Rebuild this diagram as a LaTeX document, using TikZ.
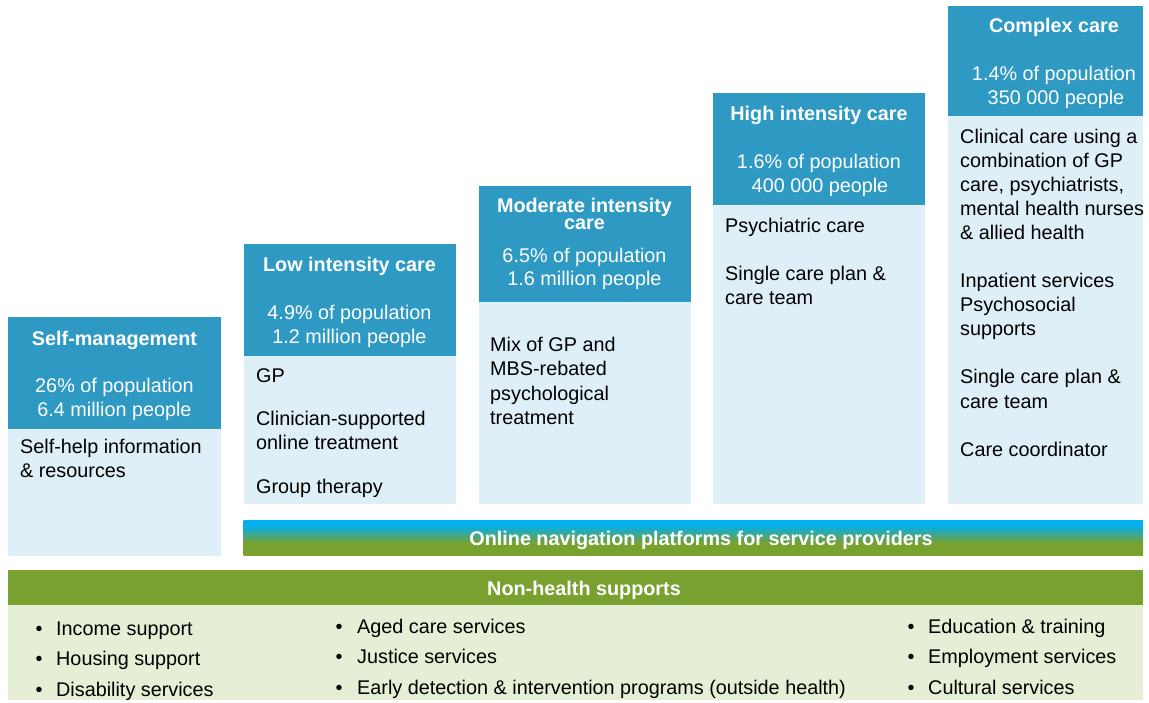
\documentclass[tikz,border=0pt]{standalone}
\usepackage{fontspec}
\setmainfont{Liberation Sans}
\definecolor{hdblue}{RGB}{46,154,196}
\definecolor{bodyblue}{RGB}{222,239,247}
\definecolor{leaf}{RGB}{120,161,48}
\definecolor{paleleaf}{RGB}{228,239,213}
\definecolor{skycyan}{RGB}{0,176,240}
\pgfdeclareverticalshading{navshade}{100bp}{color(0bp)=(leaf); color(42bp)=(leaf); color(68bp)=(skycyan); color(100bp)=(skycyan)}
\tikzset{
  txt/.style={inner sep=0pt, font=\fontsize{19.8}{24}\selectfont},
  bodytxt/.style={txt, anchor=base west, text=black},
  hdtxt/.style={txt, anchor=base, text=white},
  hdtitle/.style={hdtxt, font=\fontsize{19.8}{24}\selectfont\bfseries},
  bul/.style={txt, anchor=base, text=black},
}
\newcommand\mylines[4]{%
  \foreach \t [count=\i from 0] in {#4} {
    \node[bodytxt] (#3-\i) at (#1, #2+24*\i) {\t};
  }}
\begin{document}
\begin{tikzpicture}[x=1pt, y=-1pt]
\useasboundingbox (0,0) rectangle (1149,703);
% ---------- column boxes ----------
\fill[hdblue] (8,317) rectangle (221,428.5);
\fill[bodyblue] (8,428.5) rectangle (221,555.5);
\fill[hdblue] (243.5,244) rectangle (456,356);
\fill[bodyblue] (243.5,356) rectangle (456,503.5);
\fill[hdblue] (478.5,186.5) rectangle (690.5,302.5);
\fill[bodyblue] (478.5,302.5) rectangle (690.5,503.5);
\fill[hdblue] (712.5,93.5) rectangle (925,205.5);
\fill[bodyblue] (712.5,205.5) rectangle (925,503.5);
\fill[hdblue] (947.5,6) rectangle (1143,116.5);
\fill[bodyblue] (947.5,116.5) rectangle (1143,503.5);
% ---------- headers ----------
\node[hdtitle] (t1) at (114.5,345) {Self-management};
\node[hdtxt] (p1a) at (114.5,392) {26\% of population};
\node[hdtxt] (p1b) at (114.5,416) {6.4 million people};
\node[hdtitle] (t2) at (349.5,272) {Low intensity care};
\node[hdtxt] (p2a) at (349.5,320) {4.9\% of population};
\node[hdtxt] (p2b) at (349.5,344) {1.2 million people};
\node[hdtitle, anchor=north, align=center, font=\fontsize{19.8}{17}\selectfont\bfseries] (t3) at (584.5,197.5) {Moderate intensity\\care};
\node[hdtxt] (p3a) at (584.5,263) {6.5\% of population};
\node[hdtxt] (p3b) at (584.5,286) {1.6 million people};
\node[hdtitle] (t4) at (819,121) {High intensity care};
\node[hdtxt] (p4a) at (819,169) {1.6\% of population};
\node[hdtxt] (p4b) at (820,193) {400 000 people};
\node[hdtitle] (t5) at (1054,33) {Complex care};
\node[hdtxt] (p5a) at (1054,81) {1.4\% of population};
\node[hdtxt] (p5b) at (1056,105) {350 000 people};
% ---------- bodies ----------
\mylines{20}{453}{b1}{Self-help information, \& resources}
\mylines{256}{382}{b2a}{GP}
\mylines{256}{425}{b2b}{Clinician-supported, online treatment}
\mylines{256}{493}{b2c}{Group therapy}
\mylines{490}{352}{b3}{Mix of GP and, MBS-rebated, psychological, treatment}
\mylines{725}{233}{b4}{Psychiatric care, {}, Single care plan \&, care team}
\mylines{960}{144}{b5}{Clinical care using a, combination of GP, {care, psychiatrists,}, mental health nurses, \& allied health, {}, Inpatient services, Psychosocial, supports, {}, Single care plan \&, care team, {}, Care coordinator}
% ---------- online navigation bar ----------
\shade[shading=navshade] (243.5,520) rectangle (1143,555);
\node[hdtitle] (nav) at (701,545) {Online navigation platforms for service providers};
% ---------- non-health supports ----------
\fill[leaf] (8,569.5) rectangle (1143,605);
\fill[paleleaf] (8,605) rectangle (1143,700);
\node[hdtitle] (nh) at (584,595) {Non-health supports};
\foreach \t [count=\i from 0] in {Income support, Housing support, Disability services} {
  \node[bul] (na-d\i) at (39, 635+30.5*\i) {•};
  \node[bodytxt] (na-\i) at (56, 635+30.5*\i) {\t};
}
\foreach \t [count=\i from 0] in {Aged care services, Justice services, Early detection \& intervention programs (outside health)} {
  \node[bul] (nb-d\i) at (339, 633+30.5*\i) {•};
  \node[bodytxt] (nb-\i) at (357, 633+30.5*\i) {\t};
}
\foreach \t [count=\i from 0] in {Education \& training, Employment services, Cultural services} {
  \node[bul] (nc-d\i) at (911, 633+30.5*\i) {•};
  \node[bodytxt] (nc-\i) at (928, 633+30.5*\i) {\t};
}
\end{tikzpicture}
\end{document}
